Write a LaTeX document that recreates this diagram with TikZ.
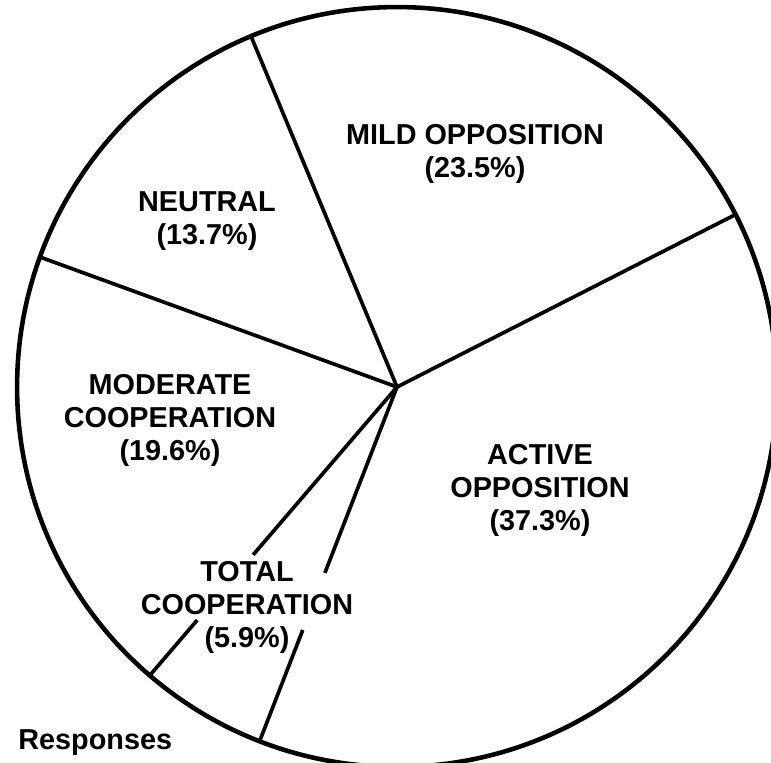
\documentclass[tikz,border=0pt]{standalone}
\usepackage{fontspec}
\setmainfont{Liberation Sans}
\usepackage{tikz}
\usetikzlibrary{calc}

\tikzset{
  rim/.style={line width=2.6pt},
  spoke/.style={line width=2.1pt},
  slicelabel/.style={align=center, font=\bfseries\fontsize{16.4}{18.8}\selectfont, inner sep=0pt}
}

\begin{document}
\begin{tikzpicture}[x=0.02cm, y=-0.02cm]
    \useasboundingbox (0,0) rectangle (771,763);
    \coordinate (c) at (397,387);

    % rim and slices
    \draw[rim] (c) circle [radius=7.6cm];
    \foreach \a/\n in {27/ma, 112.6/nm, 160/mn, 229.4/tm, 248.8/at}
    \coordinate (\n) at ($(c)+(\a:7.6cm)$);
    \foreach \n in {ma, nm, mn}
    \draw[spoke] (c) -- (\n);

    % the two spokes of total cooperation stop short of its label
    \draw[spoke] (c) -- ($(c)!0.582!(tm)$) ($(c)!0.808!(tm)$) -- (tm);
    \draw[spoke] (c) -- ($(c)!0.525!(at)$) ($(c)!0.686!(at)$) -- (at);

    % labels
    \node[slicelabel] (mild) at (475,154) {MILD OPPOSITION\\(23.5\%)};
    \node[slicelabel] (neutral) at (207,221) {NEUTRAL\\(13.7\%)};
    \node[slicelabel] (moderate) at (170,420) {MODERATE\\COOPERATION\\(19.6\%)};
    \node[slicelabel] (active) at (540,490) {ACTIVE\\OPPOSITION\\(37.3\%)};
    \node[slicelabel] (total) at (247,607) {TOTAL\\COOPERATION\\(5.9\%)};
    \node[slicelabel, anchor=base west] (resp) at (18,749) {Responses};
\end{tikzpicture}
\end{document}
